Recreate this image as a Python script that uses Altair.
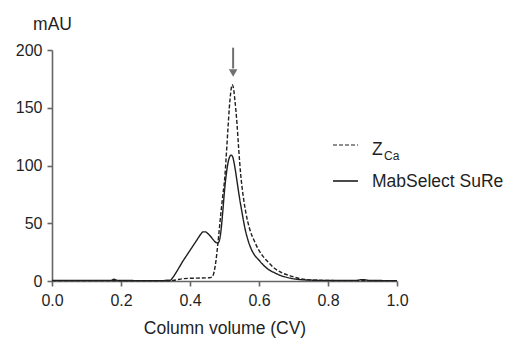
import altair as alt
import pandas as pd

# ---- data ----
solid_x = [0.00, 0.10, 0.17, 0.18, 0.19, 0.30, 0.342, 0.35, 0.36, 0.37, 0.38, 0.39, 0.40,
           0.41, 0.42, 0.43, 0.438, 0.445, 0.452, 0.46, 0.468, 0.475, 0.481, 0.486, 0.49,
           0.495, 0.50, 0.505, 0.51, 0.515, 0.519, 0.523, 0.528, 0.532, 0.536, 0.543,
           0.551, 0.559, 0.568, 0.577, 0.587, 0.60, 0.612, 0.625, 0.646, 0.665, 0.69,
           0.73, 0.80, 0.88, 0.90, 0.92, 1.00]
solid_y = [0.5, 0.5, 0.5, 1.5, 0.5, 0.3, 0.5, 3, 7.5, 12.5, 17.5, 22, 26.5,
           31, 35.5, 40, 42.5, 42.5, 41, 38.5, 35.5, 33.5, 33, 36, 44,
           60, 78, 92, 102, 107.5, 109, 108, 102, 95, 87, 73,
           59, 46, 35.5, 28, 22.5, 18, 14, 10.5, 7, 4.5, 2.5,
           1, 0.5, 0.5, 1.2, 0.5, 0.3]

dashed_x = [0.00, 0.30, 0.35, 0.38, 0.42, 0.455, 0.464, 0.47, 0.475, 0.48, 0.485, 0.49,
            0.495, 0.501, 0.505, 0.51, 0.514, 0.518, 0.522, 0.526, 0.53, 0.536, 0.541,
            0.547, 0.554, 0.562, 0.573, 0.586, 0.597, 0.61, 0.623, 0.645, 0.667, 0.69,
            0.72, 0.76, 0.85, 1.00]
dashed_y = [0.3, 0.3, 0.5, 2, 2.5, 2.8, 3.5, 8, 17, 30, 45, 60,
            74, 90, 108, 132, 150, 163, 170, 167, 157, 137, 115,
            92, 74, 59, 45, 35, 28, 22, 17.5, 11, 7, 4.5,
            2, 0.8, 0.3, 0.3]

series_names = ["ZCa", "MabSelect SuRe"]
x_ticks = [0.0, 0.2, 0.4, 0.6, 0.8, 1.0]
y_ticks = [0, 50, 100, 150, 200]

arrow_x = [0.525]
arrow_top = [202]
arrow_bottom = [184]
arrow_head_y = [180]

df = pd.concat([
    pd.DataFrame({"cv": dashed_x, "mAU": dashed_y, "series": series_names[0]}),
    pd.DataFrame({"cv": solid_x, "mAU": solid_y, "series": series_names[1]}),
])

FONT = "Liberation Sans"
AX = "#666666"
INK = "#1f1f1f"

x_scale = alt.Scale(domain=[0, 1], nice=False, zero=False)
y_scale = alt.Scale(domain=[0, 200], nice=False)

lines = alt.Chart(df).mark_line(interpolate="monotone", strokeWidth=1.4, color=INK).encode(
    x=alt.X("cv:Q", scale=x_scale,
            axis=alt.Axis(values=x_ticks, format=".1f", title="Column volume (CV)",
                          grid=False, domainColor=AX, tickColor=AX, domainWidth=1.6,
                          tickWidth=1.6, tickSize=5, labelPadding=6, labelFontSize=16,
                          labelFont=FONT, labelColor=INK, titleFont=FONT, titleFontSize=17.5,
                          titleFontWeight="normal", titleColor=INK, titleBaseline="alphabetic",
                          titleY=52, labelFlush=False)),
    y=alt.Y("mAU:Q", scale=y_scale,
            axis=alt.Axis(values=y_ticks, title="mAU", grid=False, domainColor=AX,
                          tickColor=AX, domainWidth=1.6, tickWidth=1.6, tickSize=5,
                          labelPadding=5, labelFontSize=16, labelFont=FONT, labelColor=INK,
                          titleFont=FONT, titleFontSize=17.5, titleFontWeight="normal",
                          titleColor=INK, titleAngle=0, titleAlign="center",
                          titleBaseline="alphabetic", titleX=0, titleY=-21, labelFlush=False)),
    strokeDash=alt.StrokeDash("series:N",
                              scale=alt.Scale(domain=series_names, range=[[4, 2], [1, 0]]),
                              legend=None),
    detail="series:N",
)

arrow_df = pd.DataFrame({"x": arrow_x, "top": arrow_top, "bottom": arrow_bottom,
                         "head": arrow_head_y})
arrow_shaft = alt.Chart(arrow_df).mark_rule(color="#707070", strokeWidth=2).encode(
    x="x:Q", y="top:Q", y2="bottom:Q")
arrow_head = alt.Chart(arrow_df).mark_point(shape="triangle-down", filled=True, size=75,
                                            color="#707070", opacity=1).encode(
    x="x:Q", y="head:Q")

leg_df = pd.DataFrame({"a": [0]})
leg_dash = alt.Chart(leg_df).mark_rule(color=INK, strokeWidth=1.2, strokeDash=[4, 2]).encode(
    x=alt.value(281), x2=alt.value(306), y=alt.value(95))
leg_solid = alt.Chart(leg_df).mark_rule(color=INK, strokeWidth=1.6).encode(
    x=alt.value(281), x2=alt.value(306), y=alt.value(131))

t_z = alt.Chart(pd.DataFrame({"t": ["Z"]})).mark_text(
    font=FONT, fontSize=17.5, color=INK, align="left", baseline="alphabetic").encode(
    text="t:N", x=alt.value(320), y=alt.value(105))
t_ca = alt.Chart(pd.DataFrame({"t": ["Ca"]})).mark_text(
    font=FONT, fontSize=12, color=INK, align="left", baseline="alphabetic").encode(
    text="t:N", x=alt.value(332), y=alt.value(110))
t_mab = alt.Chart(pd.DataFrame({"t": ["MabSelect SuRe"]})).mark_text(
    font=FONT, fontSize=17.5, color=INK, align="left", baseline="alphabetic").encode(
    text="t:N", x=alt.value(320), y=alt.value(137))

chart = alt.layer(lines, arrow_shaft, arrow_head, leg_dash, leg_solid, t_z, t_ca, t_mab).properties(
    width=345, height=231,
    autosize=alt.AutoSizeParams(type="none"),
    padding={"left": 44, "top": 42, "right": 108, "bottom": 57},
    background="white",
).configure_view(stroke=None)

chart.save("out.html", embed_options={"renderer": "svg", "actions": False})
